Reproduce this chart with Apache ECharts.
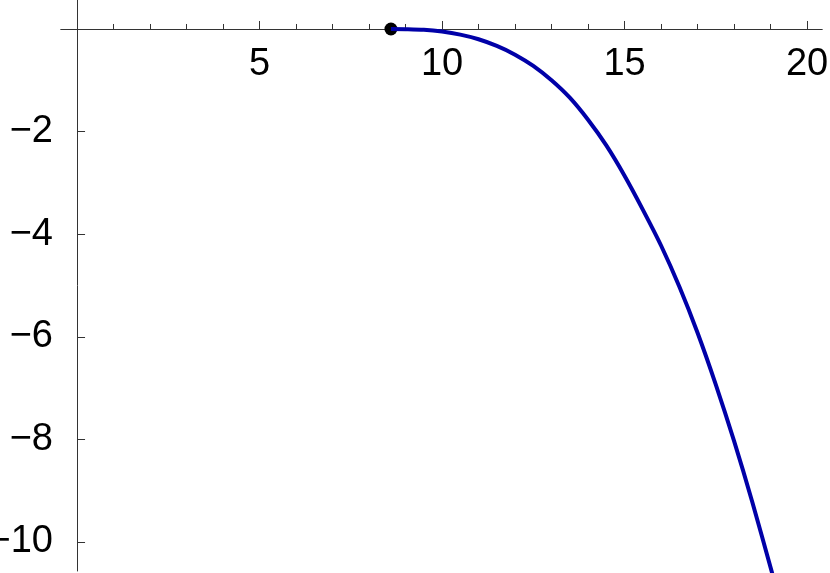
<!DOCTYPE html>
<html>
<head>
<meta charset="utf-8">
<script src="https://cdn.jsdelivr.net/npm/echarts@6/dist/echarts.min.js"></script>
<style>html,body{margin:0;padding:0;background:#fff}#c{width:830px;height:573px}</style>
</head>
<body>
<div id="c"></div>
<script>
// Curve samples
const curveX = [8.6, 9.0, 9.5, 10, 10.5, 11, 11.5, 12, 12.5, 13, 13.5, 14, 14.5, 15, 15.5, 16, 16.5, 17, 17.5, 18, 18.5, 19.1];
const curveY = [0, -0.003, -0.015, -0.05, -0.11, -0.2, -0.33, -0.5, -0.72, -1.0, -1.34, -1.77, -2.27, -2.86, -3.52, -4.22, -5.02, -5.92, -6.93, -8.03, -9.22, -10.75];
const startPoint = [8.6, 0];
const xMajorTicks = [5, 10, 15, 20];
const xMinorTicks = [1, 2, 3, 4, 6, 7, 8, 9, 11, 12, 13, 14, 16, 17, 18, 19];
const yMajorTicks = [-2, -4, -6, -8, -10];

const chart = echarts.init(document.getElementById('c'), null, {renderer: 'canvas'});
const FONT = '"Liberation Sans", Arial, sans-serif';
const axisColor = '#333';
const X_MIN = -0.44, X_MAX = 20.41, Y_MIN = -10.565, Y_MAX = 0.565;
const GRID_TOP = 0, GRID_BOTTOM = 2, PLOT_H = 573 - GRID_TOP - GRID_BOTTOM;
const zeroOffset = -PLOT_H * (0 - Y_MIN) / (Y_MAX - Y_MIN);
chart.setOption({
  animation: false,
  backgroundColor: '#fff',
  grid: {left: 61, right: 8, top: GRID_TOP, bottom: GRID_BOTTOM, containLabel: false, outerBoundsMode: 'none'},
  xAxis: [{
    type: 'value', min: X_MIN, max: X_MAX,
    axisLine: {show: true, onZero: true, onZeroAxisIndex: 0, lineStyle: {color: axisColor, width: 1}},
    axisTick: {show: true, inside: true, length: 8, customValues: xMajorTicks, lineStyle: {color: axisColor}},
    axisLabel: {show: false},
    splitLine: {show: false}
  }, {
    type: 'value', min: X_MIN, max: X_MAX, position: 'bottom',
    axisLine: {show: true, onZero: true, onZeroAxisIndex: 0, lineStyle: {color: axisColor, width: 1}},
    axisTick: {show: true, inside: true, length: 5, customValues: xMinorTicks, lineStyle: {color: axisColor}},
    axisLabel: {show: false},
    splitLine: {show: false}
  }, {
    type: 'value', min: X_MIN, max: X_MAX, position: 'bottom', offset: zeroOffset,
    axisLine: {show: false, onZero: false},
    axisTick: {show: false},
    axisLabel: {show: true, customValues: xMajorTicks, margin: 17, color: '#000', fontSize: 38, fontFamily: FONT},
    splitLine: {show: false}
  }],
  yAxis: {
    type: 'value', min: Y_MIN, max: Y_MAX,
    axisLine: {show: true, onZero: true, onZeroAxisIndex: 0, lineStyle: {color: axisColor, width: 1}},
    axisTick: {show: true, inside: true, length: 8, customValues: yMajorTicks, lineStyle: {color: axisColor}},
    axisLabel: {show: true, customValues: yMajorTicks, margin: 8, color: '#000', fontSize: 38, fontFamily: FONT,
      formatter: v => String(v).replace('-', '\u2212')},
    splitLine: {show: false}
  },
  series: [{
    type: 'line',
    xAxisIndex: 0,
    data: curveX.map((x, i) => [x, curveY[i]]),
    showSymbol: false,
    smooth: 0.3,
    clip: true,
    lineStyle: {color: '#0000a8', width: 4}
  }, {
    type: 'scatter',
    xAxisIndex: 0,
    data: [startPoint],
    symbolSize: 13,
    itemStyle: {color: '#000', opacity: 1}
  }]
});
</script>
</body>
</html>
